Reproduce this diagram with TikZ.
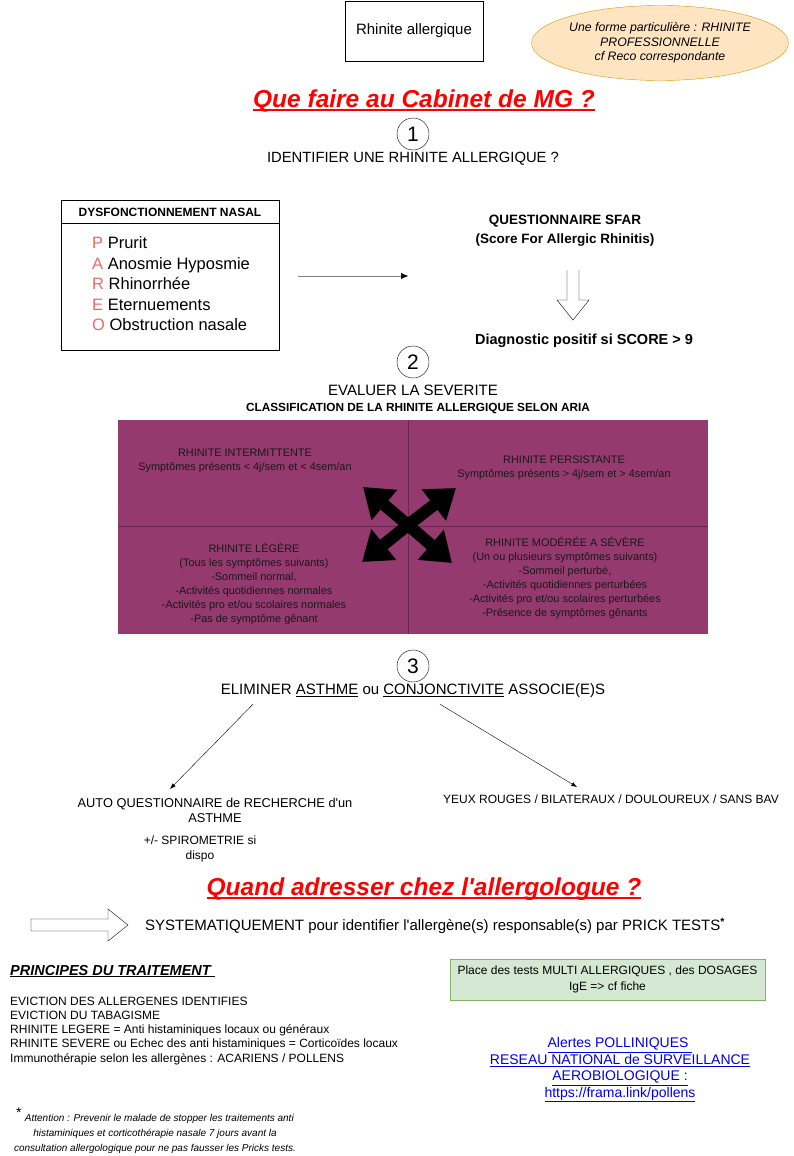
\documentclass[tikz,border=0pt]{standalone}
\usepackage{fontspec}
\setmainfont{Liberation Sans}[Ligatures=TeXOff]
\usetikzlibrary{arrows.meta,positioning,shapes.geometric,calc}
\definecolor{ariapurple}{RGB}{148,58,110}
\definecolor{arialine}{RGB}{105,38,80}
\definecolor{parored}{RGB}{234,107,102}
\definecolor{noteorange}{RGB}{255,228,194}
\definecolor{noteedge}{RGB}{215,155,0}
\definecolor{testgreen}{RGB}{213,232,212}
\definecolor{testedge}{RGB}{130,179,102}
\definecolor{linkblue}{RGB}{0,0,230}
\newcommand\fsz[2]{\fontsize{#1}{#2}\selectfont}
\newcommand\titleul[1]{\setbox0\hbox{#1}\rlap{\rule[-3.5pt]{\wd0}{1.6pt}}\box0}

\begin{document}
\begin{tikzpicture}[
  x=1pt, y=-1pt,
  every node/.style={inner sep=0pt, align=center},
  box/.style={draw},
  stepnum/.style={draw, circle, minimum size=32pt, font=\fsz{21}{22}},
  bigtitle/.style={text=red, font=\fsz{24.5}{26}\bfseries\itshape},
  quad/.style={text=black!90, font=\fsz{10.9}{14}},
  hollow/.style={draw, thin, fill=white},
  arrow/.style={-{Latex[length=2mm]}, thin},
  cross/.style={-{Triangle[length=28pt,width=38pt]}, line width=12pt}
]
\useasboundingbox (0,0) rectangle (794,1156);

% en-tete
\node[box, minimum width=138pt, minimum height=60pt, font=\fsz{15}{17}] (rhin) at (414,31) {Rhinite allergique};
\node[ellipse, draw=noteedge, fill=noteorange, minimum width=250pt, minimum height=75pt,
  font=\fsz{12.3}{14.5}\itshape] (pro) at (660,43)
  {Une forme particulière : RHINITE\\PROFESSIONNELLE\\cf Reco correspondante};
\node[bigtitle] (cabinet) at (424,101) {\titleul{Que faire au Cabinet de MG ?}};

% 1 : identifier
\node[stepnum] (s1) at (413,134) {1};
\node[font=\fsz{14.8}{16}] (ident) at (413,159) {IDENTIFIER UNE RHINITE ALLERGIQUE ?};

\node[box, minimum width=218pt, minimum height=150pt] (pareo) at (170,275) {};
\draw ([yshift=-23pt]pareo.north west) -- ([yshift=-23pt]pareo.north east);
\node[font=\fsz{12}{13}\bfseries] (dysf) at (170,212) {DYSFONCTIONNEMENT NASAL};
\foreach \l/\w [count=\i] in {P/Prurit, A/Anosmie Hyposmie, R/Rhinorrhée, E/Eternuements, O/Obstruction nasale}
  \node[anchor=base west, font=\fsz{16.5}{18}] (pareo\i) at (92,228+20.5*\i) {\textcolor{parored}{\l} \w};

\node[font=\fsz{13.5}{19}\bfseries] (sfar) at (565,231) {QUESTIONNAIRE SFAR\\(Score For Allergic Rhinitis)};
\draw[draw=gray, -{Latex[length=7pt,width=6pt,color=black]}] ([xshift=19pt,yshift=-1pt]pareo.east) -- ([xshift=129pt,yshift=-1pt]pareo.east);
\draw[hollow] (567,270) -- (567,300) -- (557,300) -- (573,320) -- (589,300) -- (579,300) -- (579,270);
\node[font=\fsz{14.5}{16}\bfseries] (diag) at (584,341) {Diagnostic positif si SCORE > 9};

% 2 : severite
\node[stepnum] (s2) at (413,362) {2};
\node[font=\fsz{15}{16}] (sever) at (413,390) {EVALUER LA SEVERITE};
\node[font=\fsz{11.8}{13}\bfseries] (aria) at (418,409) {CLASSIFICATION DE LA RHINITE ALLERGIQUE SELON ARIA};

\node[fill=ariapurple, minimum width=590pt, minimum height=214pt] (grid) at (413,527) {};
\draw[arialine] ([xshift=-5pt]grid.north) -- ([xshift=-5pt]grid.south);
\draw[arialine] ([yshift=1pt]grid.west) -- ([yshift=1pt]grid.east);

\node[quad] (inter) at (245,461) {RHINITE INTERMITTENTE\\Symptômes présents < 4j/sem et < 4sem/an};
\node[quad] (persist) at (564,468) {RHINITE PERSISTANTE\\Symptômes présents > 4j/sem et > 4sem/an};
\node[quad] (legere) at (254,584) {RHINITE LÉGÈRE\\(Tous les symptômes suivants)\\-Sommeil normal,\\-Activités quotidiennes normales\\-Activités pro et/ou scolaires normales\\-Pas de symptôme gênant};
\node[quad] (severe) at (565,578) {RHINITE MODÉRÉE A SÉVÈRE\\(Un ou plusieurs symptômes suivants)\\-Sommeil perturbé,\\-Activités quotidiennes perturbées\\-Activités pro et/ou scolaires perturbées\\-Présence de symptômes gênants};

\coordinate (ctr) at (408,525);
\foreach \dx/\dy in {-45/-38, 48/-37, -46/37, 44/38}
  \draw[cross] (ctr) -- ++(\dx,\dy);

% 3 : asthme / conjonctivite
\node[stepnum] (s3) at (413,666) {3};
\node[font=\fsz{15}{16}] (elim) at (413,691) {ELIMINER \underline{ASTHME} ou \underline{CONJONCTIVITE} ASSOCIE(E)S};

\node[font=\fsz{12.8}{15}] (auto) at (215,810) {AUTO QUESTIONNAIRE de RECHERCHE d'un\\ASTHME};
\node[font=\fsz{12}{15}] (spiro) at (200,849) {+/- SPIROMETRIE si\\dispo};
\node[font=\fsz{12}{13}] (yeux) at (611,799) {YEUX ROUGES / BILATERAUX / DOULOUREUX / SANS BAV};
\coordinate (asthme) at (170,789);
\coordinate (conj) at (577,787);
\draw[arrow] ([xshift=-160pt,yshift=-6pt]elim.south) -- (asthme);
\draw[arrow] ([xshift=27pt,yshift=-6pt]elim.south) -- (conj);

% allergologue
\node[bigtitle] (allergo) at (424,889) {\titleul{Quand adresser chez l'allergologue ?}};
\draw[hollow] (31,919) -- (108,919) -- (108,909) -- (128,925) -- (108,941) -- (108,931) -- (31,931) -- cycle;
\node[anchor=west, font=\fsz{15}{16}] (prick) at (145,926) {SYSTEMATIQUEMENT pour identifier l'allergène(s) responsable(s) par PRICK TESTS\textsuperscript{\bfseries *}};

% traitement
\node[anchor=base west, font=\fsz{14.5}{15}\bfseries\itshape] (princ) at (10,975) {\underline{PRINCIPES DU TRAITEMENT\ }};
\foreach \t [count=\i] in {EVICTION DES ALLERGENES IDENTIFIES, EVICTION DU TABAGISME,
    RHINITE LEGERE = Anti histaminiques locaux ou généraux,
    RHINITE SEVERE ou Echec des anti histaminiques = Corticoïdes locaux,
    Immunothérapie selon les allergènes : ACARIENS / POLLENS}
  \node[anchor=base west, font=\fsz{12}{13}] (trait\i) at (10,991+14.2*\i) {\t};

\node[draw=testedge, fill=testgreen, minimum width=315pt, minimum height=41pt, font=\fsz{12}{16}] (multi) at (607.5,979.5)
  {Place des tests MULTI ALLERGIQUES , des DOSAGES\\IgE => cf fiche};
\node[text=linkblue, font=\fsz{14}{16.5}] (pollens) at (620,1070)
  {\underline{Alertes POLLINIQUES\ }\\\underline{RESEAU NATIONAL de SURVEILLANCE}\\\underline{AEROBIOLOGIQUE :}\\\underline{https://frama.link/pollens}};

\node[font=\fsz{10}{15}\itshape] (attention) at (155,1131)
  {\textsuperscript{\fsz{14}{14}\upshape *} Attention : Prevenir le malade de stopper les traitements anti\\histaminiques et corticothérapie nasale 7 jours avant la\\consultation allergologique pour ne pas fausser les Pricks tests.};

\end{tikzpicture}
\end{document}
